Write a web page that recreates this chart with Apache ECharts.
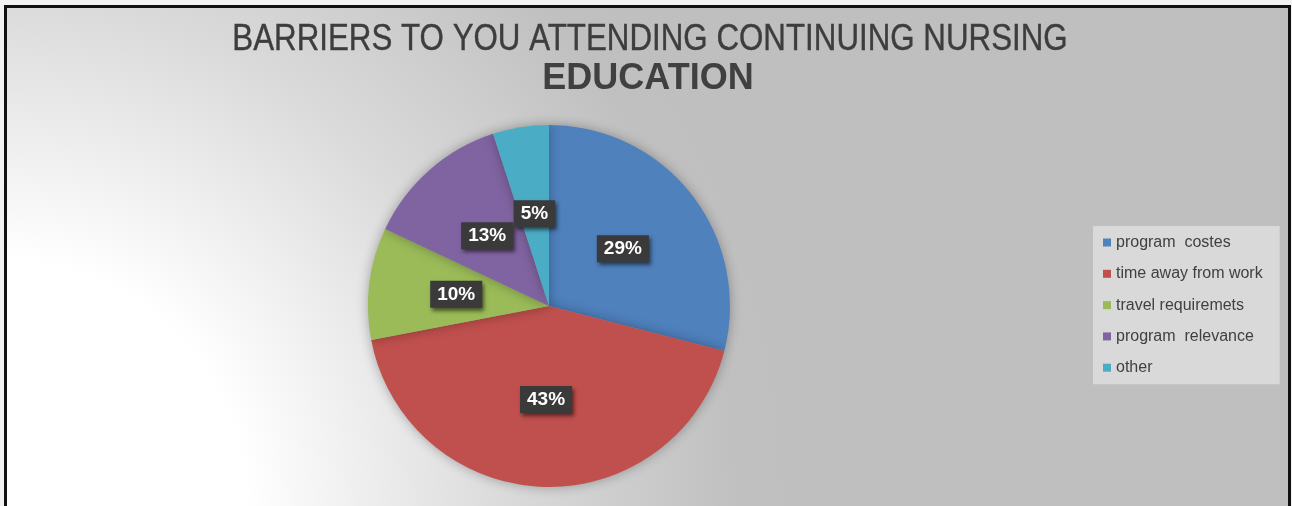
<!DOCTYPE html>
<html>
<head>
<meta charset="utf-8">
<script src="https://cdn.jsdelivr.net/npm/echarts@6/dist/echarts.min.js"></script>
<style>
  html, body { margin: 0; padding: 0; background: #ffffff; overflow: hidden; }
  #chart { position: absolute; left: 0; top: 0; width: 1292px; height: 506px; }
  #frame { position: absolute; left: 4px; top: 5px; width: 1281px; height: 540px;
           border: 3px solid #111; pointer-events: none; box-shadow: 0 0 0 8px #f2f2f2; }
</style>
</head>
<body>
<div id="chart"></div>
<div id="frame"></div>
<script>
const titleLine1 = 'BARRIERS TO YOU ATTENDING CONTINUING NURSING';
const titleLine2 = 'EDUCATION';
const categories = ['program  costes', 'time away from work', 'travel requiremets', 'program  relevance', 'other'];
const percentages = [29, 43, 10, 13, 5];
const colors = ['#4f81bd', '#c0504d', '#9bbb59', '#8064a2', '#4bacc6'];

const chart = echarts.init(document.getElementById('chart'), null, { renderer: 'canvas' });
chart.setOption({
  animation: false,
  backgroundColor: {
    type: 'radial', x: 0, y: 506, r: 820, global: true,
    colorStops: [
      { offset: 0, color: '#ffffff' },
      { offset: 0.3, color: '#ffffff' },
      { offset: 0.62, color: '#dadada' },
      { offset: 0.9, color: '#c0c0c0' },
      { offset: 1, color: '#bfbfbf' }
    ]
  },
  color: colors,
  graphic: [
    {
      type: 'text', x: 650, y: 40, scaleX: 0.846,
      style: {
        text: titleLine1, fill: '#3d3d3d',
        font: "normal 37px 'Liberation Sans', Arial, sans-serif",
        textAlign: 'center', textVerticalAlign: 'middle',
        stroke: '#3d3d3d', lineWidth: 0.4
      }
    },
    {
      type: 'text', x: 648, y: 79, scaleX: 1.0,
      style: {
        text: titleLine2, fill: '#404040',
        font: "bold 36px 'Liberation Sans', Arial, sans-serif",
        textAlign: 'center', textVerticalAlign: 'middle'
      }
    }
  ],
  legend: {
    orient: 'vertical',
    left: 1093,
    top: 226,
    padding: [8, 17, 8, 10],
    backgroundColor: '#d9d9d9',
    itemWidth: 8,
    itemHeight: 8,
    itemGap: 14.3,
    icon: 'rect',
    textStyle: { fontFamily: "'Liberation Sans', Arial, sans-serif", fontSize: 16, color: '#404040', lineHeight: 17 },
    data: categories
  },
  series: [{
    type: 'pie',
    center: [549, 306],
    radius: 181,
    startAngle: 90,
    clockwise: true,
    silent: true,
    itemStyle: { shadowBlur: 12, shadowColor: 'rgba(0,0,0,0.3)' },
    label: {
      show: true,
      position: 'inside',
      formatter: '{c}%',
      color: '#ffffff',
      fontFamily: "'Liberation Sans', Arial, sans-serif",
      fontWeight: 'bold',
      fontSize: 19,
      backgroundColor: '#3a3a3a',
      padding: [5, 7, 3, 7],
      shadowColor: 'rgba(0,0,0,0.55)',
      shadowBlur: 4,
      shadowOffsetX: 2,
      shadowOffsetY: 3
    },
    labelLine: { show: false },
    data: categories.map((n, i) => ({ name: n, value: percentages[i] }))
  }]
});
</script>
</body>
</html>
